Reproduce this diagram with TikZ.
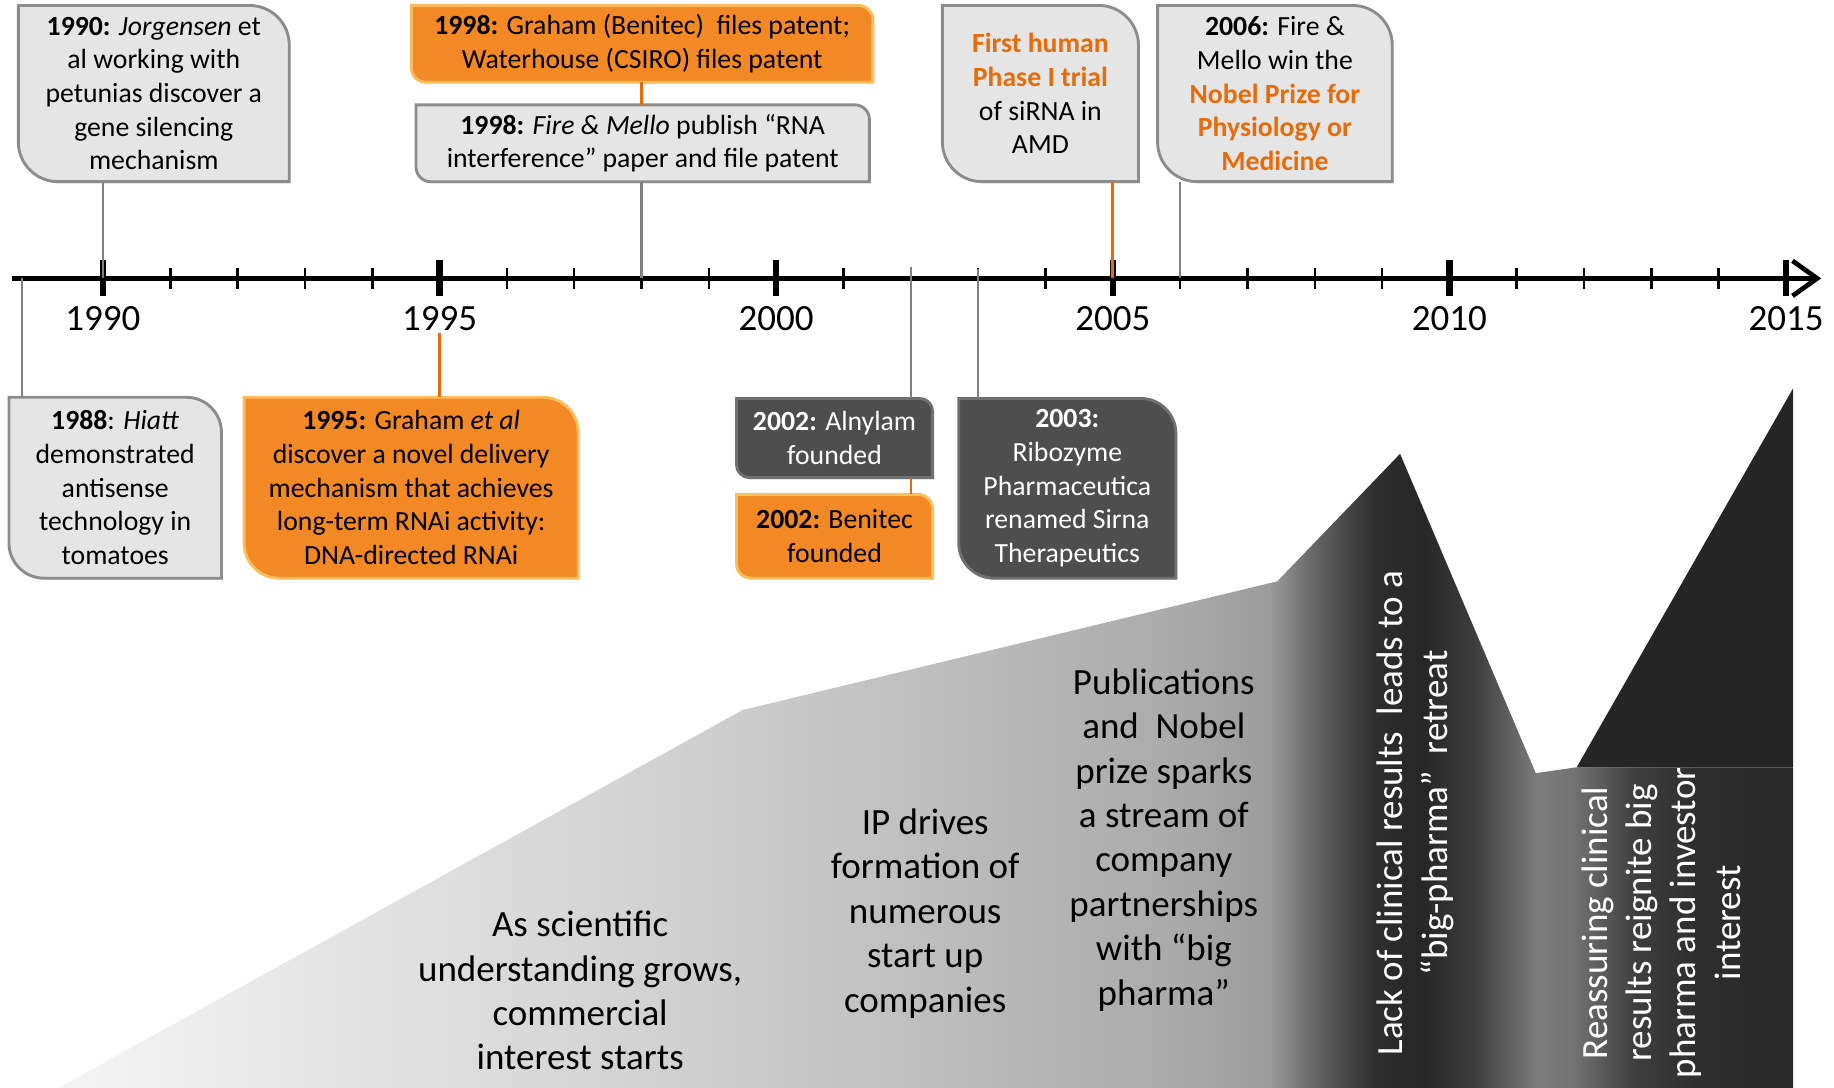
\documentclass[tikz,border=0pt]{standalone}
\usepackage{fontspec}
\setmainfont{Carlito}
\usepackage{tikz}
\usetikzlibrary{arrows.meta, positioning, backgrounds, shadows}
\definecolor{tlgray}{RGB}{229,229,229}
\definecolor{tledge}{RGB}{140,140,140}
\definecolor{tlorange}{RGB}{242,137,36}
\definecolor{tlorangeedge}{RGB}{250,190,95}
\definecolor{tlorangetxt}{RGB}{228,108,10}
\definecolor{tldark}{RGB}{78,78,78}
\definecolor{tldarkedge}{RGB}{112,112,112}
\definecolor{conngray}{RGB}{128,128,128}
\definecolor{peakdark}{RGB}{38,38,38}
\tikzstyle{evbox}=[rectangle, inner sep=0pt, align=center,
  font=\fontsize{13.5}{16.4}\selectfont]
\tikzstyle{graytag}=[fill=tlgray, draw=tledge, line width=1.4pt,
  drop shadow={opacity=0.25, shadow xshift=0.6pt, shadow yshift=-0.8pt}]
\tikzstyle{orangetag}=[fill=tlorange, draw=tlorangeedge, line width=1.4pt,
  drop shadow={opacity=0.2, shadow xshift=0.6pt, shadow yshift=-0.8pt}]
\tikzstyle{darktag}=[fill=tldark, draw=tldarkedge, line width=1.4pt,
  drop shadow={opacity=0.2, shadow xshift=0.6pt, shadow yshift=-0.8pt}]
\tikzstyle{conn}=[draw=conngray, line width=1.2pt]
\tikzstyle{oconn}=[draw=tlorangetxt, line width=1.3pt]
\tikzstyle{axisline}=[line width=2.3pt, -{Straight Barb[length=0.42cm, width=0.6cm]}]
\tikzstyle{majortick}=[line width=3.1pt]
\tikzstyle{minortick}=[line width=1.25pt]
\tikzstyle{yearlbl}=[font=\fontsize{18}{21}\selectfont, inner sep=1pt]
\tikzstyle{phasetxt}=[align=center, font=\fontsize{18}{21.6}\selectfont]
\pgfdeclarehorizontalshading{interest}{100bp}{%
  color(0bp)=(black!4); color(25bp)=(black!4); color(44.7bp)=(black!20);
  color(57.05bp)=(black!33); color(59.9bp)=(black!39); color(61.4bp)=(black!63);
  color(62.95bp)=(black!82); color(64.3bp)=(black!85); color(65.8bp)=(black!76);
  color(67.65bp)=(black!51); color(68.65bp)=(black!55); color(70.5bp)=(black!76);
  color(72.2bp)=(black!82); color(75bp)=(black!84); color(100bp)=(black!84)}
% tag outline: rounded top right and bottom left corners
\newcommand{\tagshape}[3]{%
  \begin{pgfonlayer}{background}
    \path[#3] (#1.north west) -- ([xshift=-#2]#1.north east)
      arc[start angle=90, end angle=0, radius=#2] -- (#1.south east)
      -- ([xshift=#2]#1.south west)
      arc[start angle=270, end angle=180, radius=#2] -- cycle;
  \end{pgfonlayer}}

\begin{document}
\begin{tikzpicture}[x=0.02cm, y=0.02cm]
  \useasboundingbox (0,0) rectangle (1568,930);

  % interest curve
  \shade[shading=interest] (50,0) -- (635,323) -- (1092,433) -- (1197,542)
    -- (1313,269) -- (1348,274) -- (1533,274) -- (1533,0) -- cycle;
  \fill[peakdark] (1348,274) -- (1533,598) -- (1533,274) -- cycle;

  \node[phasetxt] (txtA) at (496,83)
    {As scientific\\understanding grows,\\commercial\\interest starts};
  \node[phasetxt] (txtB) at (791,149)
    {IP drives\\formation of\\numerous\\start up\\companies};
  \node[phasetxt] (txtC) at (995,212)
    {Publications\\and\ \ Nobel\\prize sparks\\a stream of\\company\\partnerships\\with “big\\pharma”};
  \node[phasetxt, text=white, rotate=90] (txtD) at (1210,235)
    {Lack of clinical results\ \ leads to a\\“big-pharma”\ \ retreat};
  \node[phasetxt, text=white, rotate=90] (txtE) at (1420,141)
    {Reassuring clinical\\results reignite big\\pharma and investor\\interest};

  % time axis
  \coordinate (axstart) at (10,692);
  \coordinate (axend) at (1557,692);
  \foreach \yr in {1990,...,2015}
    \coordinate (t\yr) at ({88+(\yr-1990)*57.56},692);
  \coordinate (t1988) at (19,692);
  \draw[axisline] (axstart) -- (axend);
  \foreach \yr in {1991,...,2014}
    \draw[minortick] ([yshift=-0.18cm]t\yr) -- ([yshift=0.18cm]t\yr);
  \foreach \yr in {1990,1995,...,2015}
    \draw[majortick] ([yshift=-0.31cm]t\yr) -- ([yshift=0.31cm]t\yr);
  \foreach \yr in {1990,1995,...,2015}
    \node[yearlbl] (l\yr) at ([yshift=-0.68cm]t\yr) {\yr};

  % events above the axis
  \node[evbox, minimum width=4.62cm, minimum height=3.0cm] (b1990) at (131.5,850)
    {\textbf{1990:} \textit{Jorgensen} et\\al working with\\petunias discover a\\gene silencing\\mechanism};
  \tagshape{b1990}{0.68cm}{graytag}
  \node[evbox, minimum width=7.88cm, minimum height=1.3cm] (b98g) at (549,892.5)
    {\textbf{1998:} Graham (Benitec)\ \ files patent;\\Waterhouse (CSIRO) files patent};
  \tagshape{b98g}{0.25cm}{orangetag}
  \node[evbox, minimum width=7.74cm, minimum height=1.3cm] (b98f) at (549.5,807.5)
    {\textbf{1998:} \textit{Fire \& Mello} publish “RNA\\interference” paper and file patent};
  \tagshape{b98f}{0.25cm}{graytag}
  \node[evbox, minimum width=3.34cm, minimum height=3.0cm] (bphase) at (889.5,850)
    {\textcolor{tlorangetxt}{\textbf{First human}}\\\textcolor{tlorangetxt}{\textbf{Phase I trial}}\\of siRNA in\\AMD};
  \tagshape{bphase}{0.68cm}{graytag}
  \node[evbox, minimum width=4.0cm, minimum height=3.0cm] (b2006) at (1090,850)
    {\textbf{2006:} Fire \&\\Mello win the\\\textcolor{tlorangetxt}{\textbf{Nobel Prize for}}\\\textcolor{tlorangetxt}{\textbf{Physiology or}}\\\textcolor{tlorangetxt}{\textbf{Medicine}}};
  \tagshape{b2006}{0.68cm}{graytag}

  % events below the axis
  \node[evbox, minimum width=3.62cm, minimum height=3.08cm] (b1988) at (98.5,513)
    {\textbf{1988}: \textit{Hiatt}\\demonstrated\\antisense\\technology in\\tomatoes};
  \tagshape{b1988}{0.6cm}{graytag}
  \node[evbox, minimum width=5.7cm, minimum height=3.08cm] (b1995) at (351.5,513)
    {\textbf{1995:} Graham \textit{et al}\\discover a novel delivery\\mechanism that achieves\\long-term RNAi activity:\\DNA-directed RNAi};
  \tagshape{b1995}{0.6cm}{orangetag}
  \node[evbox, text=white, minimum width=3.34cm, minimum height=1.34cm] (bALN) at (713.5,555.5)
    {\textbf{2002:} Alnylam\\founded};
  \tagshape{bALN}{0.22cm}{darktag}
  \node[evbox, minimum width=3.34cm, minimum height=1.42cm] (bBEN) at (713.5,471.5)
    {\textbf{2002:} Benitec\\founded};
  \tagshape{bBEN}{0.25cm}{orangetag}
  \node[evbox, text=white, minimum width=3.7cm, minimum height=3.06cm] (b2003) at (912.5,512.5)
    {\textbf{2003:}\\Ribozyme\\Pharmaceutica\\renamed Sirna\\Therapeutics};
  \tagshape{b2003}{0.6cm}{darktag}

  % connectors
  \draw[conn] (b1990.south -| t1990) -- (t1990);
  \draw[oconn] (b98g.south -| t1998) -- (b98f.north -| t1998);
  \draw[conn] (b98f.south -| t1998) -- (t1998);
  \draw[oconn] (bphase.south -| t2005) -- (t2005);
  \draw[conn] (b2006.south -| t2006) -- (t2006);
  \draw[conn] (t1988) -- (b1988.north -| t1988);
  \draw[oconn] (l1995.south -| t1995) -- (b1995.north -| t1995);
  \draw[conn] ([yshift=0.2cm]t2002) -- (bALN.north -| t2002);
  \draw[oconn] (bALN.south -| t2002) -- (bBEN.north -| t2002);
  \draw[conn] ([yshift=0.16cm]t2003) -- (b2003.north -| t2003);
\end{tikzpicture}
\end{document}
